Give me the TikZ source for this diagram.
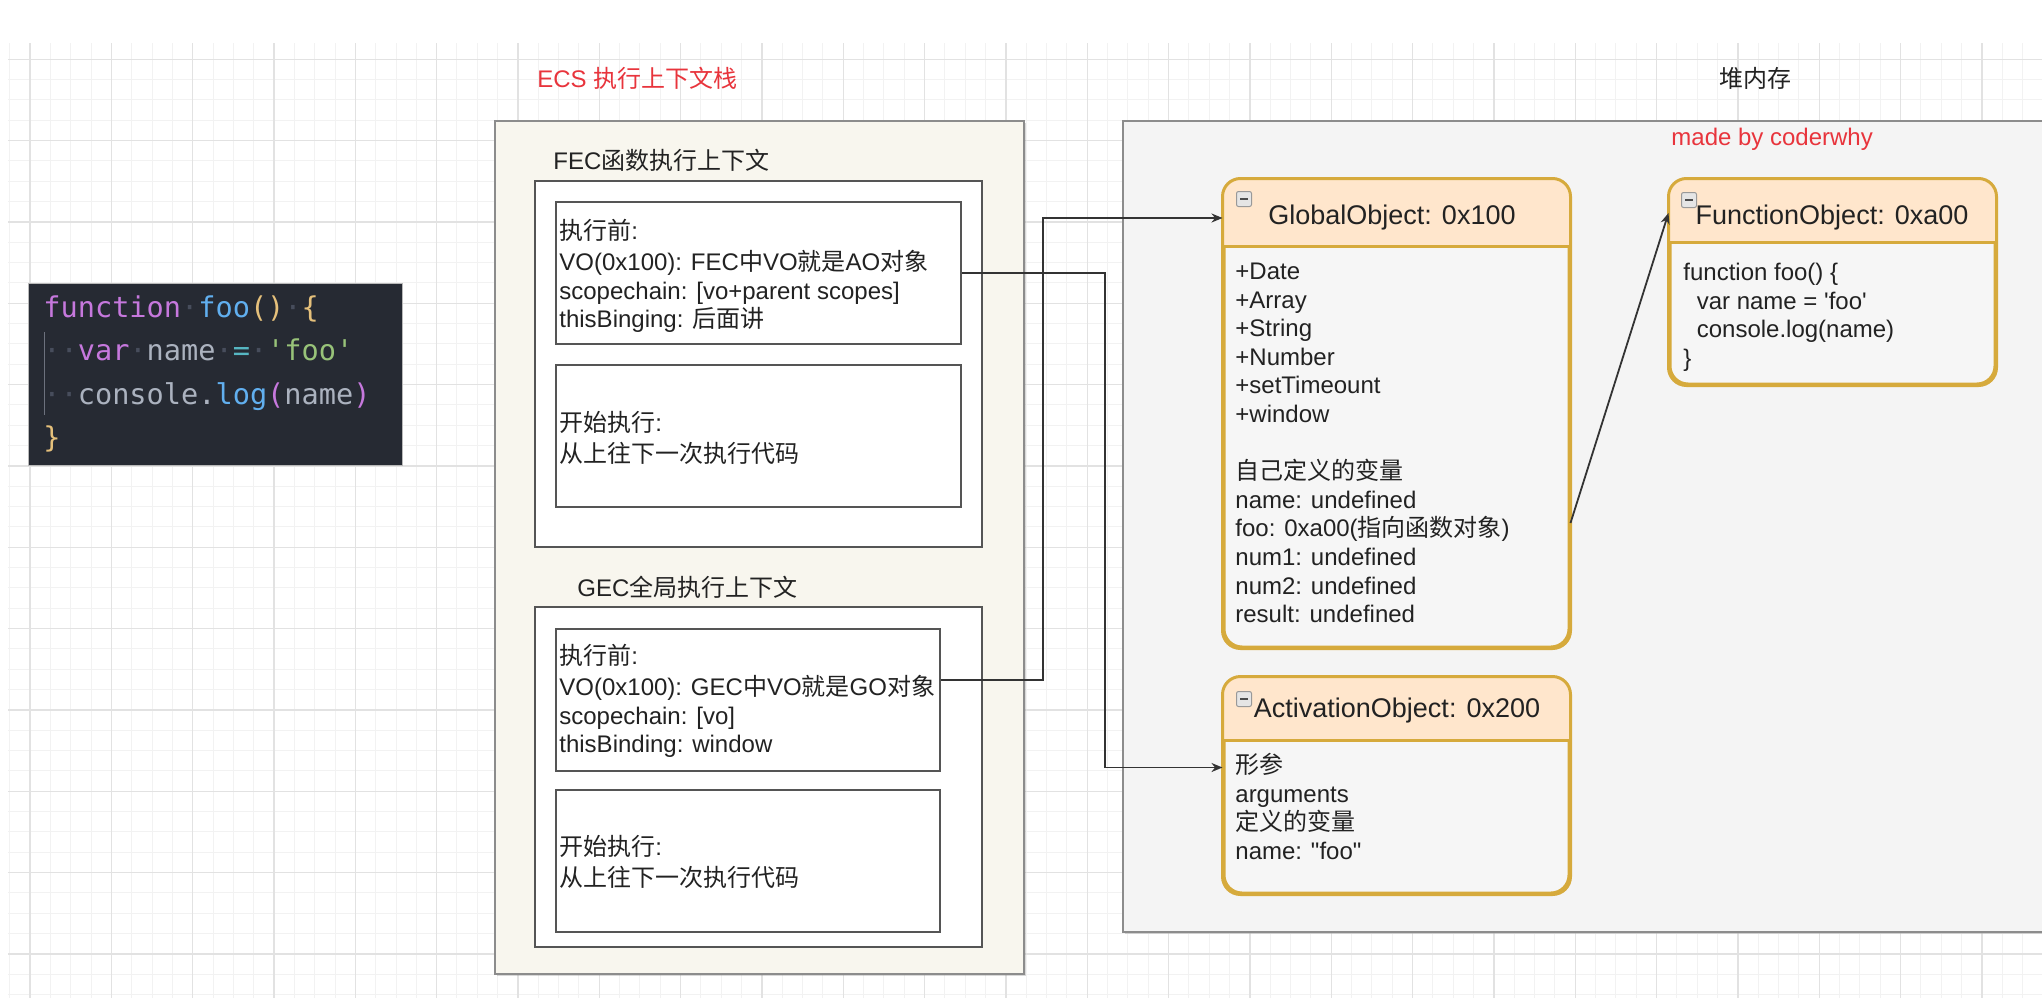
\documentclass[tikz,border=0pt]{standalone}
\usepackage{fontspec}
\setmainfont{Liberation Sans}
\newfontfamily\cjk{Noto Sans CJK SC}
\newfontfamily\codefont{DejaVu Sans Mono}
\usetikzlibrary{arrows.meta,shadows}

\definecolor{gridminor}{HTML}{F2F2F2}
\definecolor{gridmajor}{HTML}{E2E2E2}
\definecolor{ecsfill}{HTML}{F8F6EE}
\definecolor{heapfill}{HTML}{F4F4F4}
\definecolor{framegray}{HTML}{8C8C8C}
\definecolor{boxline}{HTML}{555555}
\definecolor{objline}{HTML}{D6AA3C}
\definecolor{objhead}{HTML}{FFE6CC}
\definecolor{objbody}{HTML}{F6F6F6}
\definecolor{labelred}{HTML}{E8343C}
\definecolor{txt}{HTML}{222222}
\definecolor{codebg}{HTML}{262A33}
\definecolor{kwpurple}{HTML}{C678DD}
\definecolor{fnblue}{HTML}{61AFEF}
\definecolor{brgold}{HTML}{E5C07B}
\definecolor{plain}{HTML}{ABB2BF}
\definecolor{opcyan}{HTML}{56B6C2}
\definecolor{strgreen}{HTML}{98C379}
\definecolor{wsdot}{HTML}{474D5C}

\newcommand\zh[1]{{\cjk #1}}

\tikzset{
  bodytext/.style={anchor=north west, align=left, inner sep=0pt,
    font=\fontsize{12}{14.3}\selectfont, text=txt},
  titletext/.style={inner sep=0pt, font=\fontsize{13.5}{16}\selectfont, text=txt},
  labeltext/.style={inner sep=0pt, font=\fontsize{12}{14}\selectfont},
  stagebox/.style={draw=boxline, line width=1.2pt, fill=white, inner sep=0pt},
  framebox/.style={draw=framegray, line width=0.9pt, inner sep=0pt,
    drop shadow={shadow xshift=1pt, shadow yshift=-1pt, opacity=0.3}},
  objbox/.style={draw=objline, line width=1.5pt, rounded corners=9pt,
    fill=objbody, inner sep=0pt},
  collapse/.style={draw=gray!80, fill=gray!20, line width=0.5pt,
    rounded corners=1pt, minimum size=7.5pt, inner sep=0pt,
    path picture={\draw[line width=0.7pt, gray!60!black]
      ([xshift=1.8pt]path picture bounding box.west) --
      ([xshift=-1.8pt]path picture bounding box.east);}},
  conn/.style={draw=black!80, line width=0.9pt,
    -{Stealth[length=5.5pt, width=4.5pt]}},
}

\begin{document}
\begin{tikzpicture}[x=0.5pt, y=-0.5pt]
\useasboundingbox (0,0) rectangle (2042,1007);
\fill[white] (0,0) rectangle (2042,1007);

% canvas grid
\begin{scope}
  \clip (8,43) rectangle (2042,998);
  \foreach \i in {0,...,100}
    \draw[gridminor, line width=0.5pt] ({9.67+20.333*\i},43) -- ({9.67+20.333*\i},998);
  \foreach \j in {0,...,48}
    \draw[gridminor, line width=0.5pt] (8,{38.97+20.333*\j}) -- (2042,{38.97+20.333*\j});
  \foreach \i in {0,...,25}
    \draw[gridmajor, line width=0.6pt] ({30+81.333*\i},43) -- ({30+81.333*\i},998);
  \foreach \j in {0,...,11}
    \draw[gridmajor, line width=0.6pt] (8,{59.3+81.333*\j}) -- (2042,{59.3+81.333*\j});
\end{scope}

\begin{scope}
\clip (0,0) rectangle (2042,1007);

% source code panel
\node[fill=codebg, draw=gray!55, line width=0.5pt, minimum width=187pt,
      minimum height=91pt, inner sep=0pt] (code) at (215,374) {};
\draw[wsdot!80, line width=0.5pt] (44,332) -- (44,415);
\node[anchor=north west, align=left, inner sep=0pt,
      font=\codefont\fontsize{14.3}{21.75}\selectfont] (codetext) at (43,286.5)
  {\strut\textcolor{kwpurple}{function}\textcolor{wsdot}{·}\textcolor{fnblue}{foo}\textcolor{brgold}{()}\textcolor{wsdot}{·}\textcolor{brgold}{\{}\\
   \textcolor{wsdot}{··}\textcolor{kwpurple}{var}\textcolor{wsdot}{·}\textcolor{plain}{name}\textcolor{wsdot}{·}\textcolor{opcyan}{=}\textcolor{wsdot}{·}\textcolor{strgreen}{\textquotesingle foo\textquotesingle}\\
   \textcolor{wsdot}{··}\textcolor{plain}{console.}\textcolor{fnblue}{log}\textcolor{kwpurple}{(}\textcolor{plain}{name}\textcolor{kwpurple}{)}\\
   \textcolor{brgold}{\}}};

% execution context stack
\node[labeltext, text=labelred, anchor=west] (ecslabel) at (537,78) {ECS \zh{执行上下文栈}};
\node[framebox, fill=ecsfill, minimum width=264.5pt, minimum height=426.5pt] (ecs) at (759.5,547.5) {};

\node[labeltext, text=txt, anchor=west] (feclabel) at (553,160) {FEC\zh{函数执行上下文}};
\node[stagebox, minimum width=223.5pt, minimum height=183pt] (fec) at (758.5,364) {};
\node[stagebox, minimum width=202.5pt, minimum height=71pt] (fpre) at (758.5,273) {};
\node[stagebox, minimum width=202.5pt, minimum height=71pt] (frun) at (758.5,436) {};
\node[bodytext] (fpretext) at (559,219)
  {\strut\zh{执行前}:\\VO(0x100): FEC\zh{中}VO\zh{就是}AO\zh{对象}\\scopechain: [vo+parent scopes]\\thisBinging: \zh{后面讲}};
\node[bodytext] (fruntext) at (559,411)
  {\strut\zh{开始执行}:\\\zh{从上往下一次执行代码}};

\node[labeltext, text=txt, anchor=west] (geclabel) at (577,587) {GEC\zh{全局执行上下文}};
\node[stagebox, minimum width=223.5pt, minimum height=170pt] (gec) at (758.5,777) {};
\node[stagebox, minimum width=192pt, minimum height=71pt] (gpre) at (748,700) {};
\node[stagebox, minimum width=192pt, minimum height=71pt] (grun) at (748,861) {};
\node[bodytext] (gpretext) at (559,644)
  {\strut\zh{执行前}:\\VO(0x100): GEC\zh{中}VO\zh{就是}GO\zh{对象}\\scopechain: [vo]\\thisBinding: window};
\node[bodytext] (gruntext) at (559,835)
  {\strut\zh{开始执行}:\\\zh{从上往下一次执行代码}};

% heap memory
\node[labeltext, text=txt] (heaplabel) at (1755,78) {\zh{堆内存}};
\node[framebox, fill=heapfill, minimum width=473.5pt, minimum height=405.5pt] (heap) at (1596.5,526.5) {};
\node[labeltext, text=labelred, anchor=west] (author) at (1671,139) {made by coderwhy};

\coordinate (gosep) at (0,246);
\coordinate (aosep) at (0,740);
\coordinate (fosep) at (0,242);

% global object
\node[objbox, minimum width=172.5pt, minimum height=233.5pt] (go) at (1396.5,413.5) {};
\begin{scope}
  \clip[rounded corners=9pt] (go.north west) rectangle (go.south east);
  \fill[objhead] (go.north west) rectangle (go.east |- gosep);
\end{scope}
\draw[objline, line width=1.5pt] (go.west |- gosep) -- (go.east |- gosep);
\draw[objline, line width=1.5pt, rounded corners=9pt] (go.north west) rectangle (go.south east);
\node[collapse] (goicon) at (1244,199) {};
\node[titletext] (gotitle) at (1392,218) {GlobalObject: 0x100};
\node[bodytext] (gobody) at (1235,259)
  {\strut+Date\\+Array\\+String\\+Number\\+setTimeount\\+window\\[14.3pt]
   \zh{自己定义的变量}\\name: undefined\\foo: 0xa00(\zh{指向函数对象})\\num1: undefined\\num2: undefined\\result: undefined};

% activation object
\node[objbox, minimum width=172.5pt, minimum height=107.5pt] (ao) at (1396.5,785.5) {};
\begin{scope}
  \clip[rounded corners=9pt] (ao.north west) rectangle (ao.south east);
  \fill[objhead] (ao.north west) rectangle (ao.east |- aosep);
\end{scope}
\draw[objline, line width=1.5pt] (ao.west |- aosep) -- (ao.east |- aosep);
\draw[objline, line width=1.5pt, rounded corners=9pt] (ao.north west) rectangle (ao.south east);
\node[collapse] (aoicon) at (1244,699) {};
\node[titletext] (aotitle) at (1397,711) {ActivationObject: 0x200};
\node[bodytext] (aobody) at (1235,753)
  {\strut\zh{形参}\\arguments\\\zh{定义的变量}\\name: \textquotedbl foo\textquotedbl};

% function object
\node[objbox, minimum width=162.5pt, minimum height=102pt] (fo) at (1832.5,282) {};
\begin{scope}
  \clip[rounded corners=9pt] (fo.north west) rectangle (fo.south east);
  \fill[objhead] (fo.north west) rectangle (fo.east |- fosep);
\end{scope}
\draw[objline, line width=1.5pt] (fo.west |- fosep) -- (fo.east |- fosep);
\draw[objline, line width=1.5pt, rounded corners=9pt] (fo.north west) rectangle (fo.south east);
\node[collapse] (foicon) at (1689,200) {};
\node[titletext] (fotitle) at (1832,218) {FunctionObject: 0xa00};
\node[bodytext] (fobody) at (1683,260)
  {\strut function foo() \{\\\hspace*{6.7pt}var name = \textquotesingle foo\textquotesingle\\\hspace*{6.7pt}console.log(name)\\\}};

% references
\draw[conn] ([yshift=10pt]gpre.east) -- ++(102,0) |- (go.west |- gotitle);
\draw[conn] (fpre.east) -- ++(143,0) |- ([yshift=9pt]ao.west);
\draw[conn] ([yshift=-54.75pt]go.east) -- ([yshift=34.5pt]fo.west);
\end{scope}
\end{tikzpicture}
\end{document}
